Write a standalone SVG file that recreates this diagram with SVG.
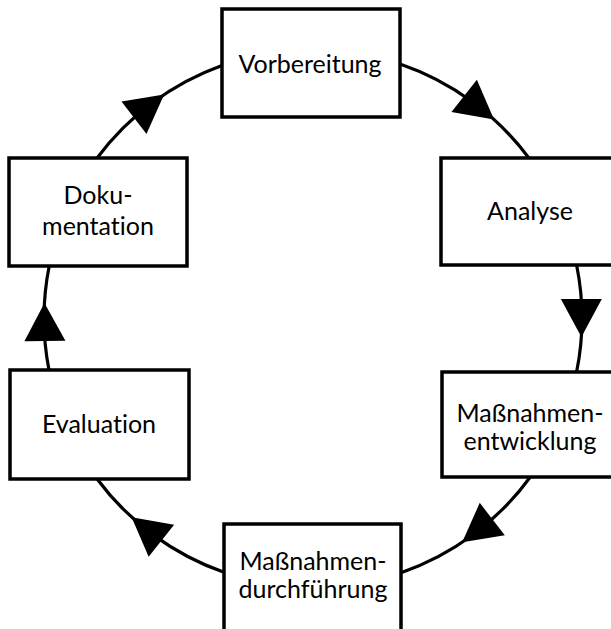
<svg xmlns="http://www.w3.org/2000/svg" width="611" height="629" viewBox="0 0 611 629">
<style>
.box{fill:#fff;stroke:#000;stroke-width:3.5}
.arc{fill:none;stroke:#000;stroke-width:3.2}
.head{fill:#000;stroke:none}
.lbl{font-family:Lato,"Open Sans","Liberation Sans",sans-serif;font-size:25px;fill:#000;text-anchor:middle;font-variant-ligatures:none;font-feature-settings:"liga" 0,"clig" 0}
</style>
<defs>
<polygon id="ah" class="head" points="0,0 -38,-20.5 -38,20.5"/>
</defs>
<rect width="611" height="629" fill="#fff"/>
<g id="connectors">
<path class="arc" d="M400,64 A269,269 0 0 1 528.9,158"/>
<path class="arc" d="M576.6,265 A269,269 0 0 1 576.6,372"/>
<path class="arc" d="M530.3,477 A269,269 0 0 1 401,572.7"/>
<path class="arc" d="M224,572.3 A269,269 0 0 1 97.1,479"/>
<path class="arc" d="M49,370 A269,269 0 0 1 49.2,266"/>
<path class="arc" d="M97.1,158 A269,269 0 0 1 222,65.4"/>
<use href="#ah" transform="translate(494,119.5) rotate(38.3)"/>
<use href="#ah" transform="translate(581.4,337) rotate(89.9)"/>
<use href="#ah" transform="translate(462.2,542.3) rotate(142.3)"/>
<use href="#ah" transform="translate(131.6,517.2) rotate(218.4)"/>
<use href="#ah" transform="translate(44.45,303) rotate(269.3)"/>
<use href="#ah" transform="translate(164.1,94.5) rotate(322.4)"/>
</g>
<g id="vorbereitung">
<rect class="box" x="222" y="9" width="178" height="108"/>
<text class="lbl" x="310" y="73">Vorbereitung</text>
</g>
<g id="analyse">
<rect class="box" x="441" y="158" width="178" height="107"/>
<text class="lbl" x="530" y="220">Analyse</text>
</g>
<g id="massnahmenentwicklung">
<rect class="box" x="442" y="372" width="178" height="105"/>
<text class="lbl" x="530" y="422">Maßnahmen-</text>
<text class="lbl" x="530" y="450">entwicklung</text>
</g>
<g id="massnahmendurchfuehrung">
<rect class="box" x="224" y="524" width="177" height="108"/>
<text class="lbl" x="313" y="570">Maßnahmen-</text>
<text class="lbl" x="313" y="598">durchführung</text>
</g>
<g id="evaluation">
<rect class="box" x="10" y="370" width="179" height="109"/>
<text class="lbl" x="99" y="433">Evaluation</text>
</g>
<g id="dokumentation">
<rect class="box" x="9" y="158" width="178" height="108"/>
<text class="lbl" x="98" y="204">Doku-</text>
<text class="lbl" x="98" y="235">mentation</text>
</g>
</svg>
